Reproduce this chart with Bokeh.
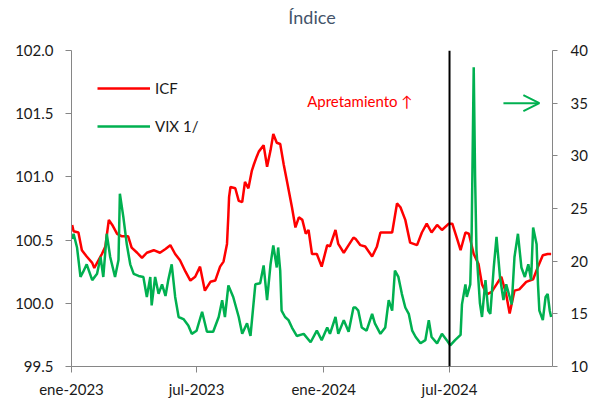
import pandas as pd
from bokeh.plotting import figure
from bokeh.models import (Range1d, LinearAxis, FixedTicker, Span, Label, Arrow,
                          OpenHead, Legend, LegendItem, PrintfTickFormatter, Title)
from bokeh.embed import file_html
from bokeh.resources import INLINE

# ---------------- data ----------------
icf_dates = [
    "2023-01-02", "2023-01-04", "2023-01-11", "2023-01-16", "2023-01-23", "2023-01-31",
    "2023-02-03", "2023-02-09", "2023-02-14", "2023-02-19", "2023-02-24",
    "2023-03-01", "2023-03-08", "2023-03-15", "2023-03-24", "2023-03-29",
    "2023-04-06", "2023-04-13", "2023-04-20", "2023-04-30",
    "2023-05-09", "2023-05-17", "2023-05-24", "2023-05-31",
    "2023-06-07", "2023-06-15", "2023-06-22", "2023-06-29",
    "2023-07-06", "2023-07-13", "2023-07-21", "2023-07-28",
    "2023-08-04", "2023-08-09", "2023-08-14", "2023-08-16", "2023-08-17", "2023-08-19", "2023-08-26", "2023-08-31",
    "2023-09-05", "2023-09-09", "2023-09-14", "2023-09-19", "2023-09-22", "2023-09-26", "2023-09-29",
    "2023-10-06", "2023-10-11", "2023-10-16", "2023-10-20", "2023-10-25", "2023-10-30",
    "2023-11-04", "2023-11-09", "2023-11-16", "2023-11-21", "2023-11-26",
    "2023-12-01", "2023-12-06", "2023-12-10", "2023-12-15", "2023-12-22", "2023-12-29",
    "2024-01-06", "2024-01-10", "2024-01-18", "2024-01-22", "2024-01-30",
    "2024-02-06", "2024-02-13", "2024-02-16", "2024-02-23",
    "2024-03-01", "2024-03-11", "2024-03-18", "2024-03-23",
    "2024-04-01", "2024-04-09", "2024-04-16", "2024-04-21", "2024-04-28",
    "2024-05-05", "2024-05-15", "2024-05-22", "2024-05-29",
    "2024-06-05", "2024-06-13", "2024-06-20", "2024-06-30",
    "2024-07-05", "2024-07-12", "2024-07-17", "2024-07-24", "2024-07-29",
    "2024-08-05", "2024-08-12", "2024-08-17", "2024-08-24", "2024-08-31",
    "2024-09-07", "2024-09-14", "2024-09-21", "2024-09-26",
    "2024-10-03", "2024-10-10", "2024-10-20", "2024-10-30",
    "2024-11-06", "2024-11-13", "2024-11-20", "2024-11-25",
]
icf_values = [
    100.62, 100.57, 100.56, 100.42, 100.37, 100.32,
    100.28, 100.34, 100.39, 100.45, 100.66,
    100.62, 100.55, 100.53, 100.53, 100.44,
    100.40, 100.36, 100.40, 100.42,
    100.40, 100.43, 100.46, 100.39,
    100.34, 100.25, 100.18, 100.21,
    100.29, 100.10, 100.17, 100.18,
    100.29, 100.33, 100.47, 100.70, 100.84, 100.92, 100.91, 100.81,
    100.80, 100.96, 100.91, 101.05, 101.10, 101.16, 101.20,
    101.25, 101.08, 101.21, 101.34, 101.27, 101.26,
    101.10, 100.96, 100.76, 100.60, 100.68,
    100.66, 100.55, 100.58, 100.39, 100.39, 100.29,
    100.46, 100.45, 100.58, 100.47, 100.40,
    100.46, 100.52, 100.51, 100.46,
    100.45, 100.37, 100.45, 100.56,
    100.56, 100.56, 100.79, 100.76, 100.66,
    100.48, 100.46, 100.56, 100.63,
    100.56, 100.62, 100.58, 100.63,
    100.63, 100.51, 100.42, 100.56, 100.55,
    100.39, 100.31, 100.15, 100.07, 100.09,
    100.15, 100.21, 100.07, 99.92,
    100.10, 100.11, 100.17, 100.19,
    100.29, 100.38, 100.39, 100.39,
]

vix_dates = [
    "2023-01-02", "2023-01-04", "2023-01-09", "2023-01-14", "2023-01-18", "2023-01-23", "2023-01-31",
    "2023-02-07", "2023-02-12", "2023-02-16", "2023-02-21", "2023-02-26",
    "2023-03-05", "2023-03-10", "2023-03-12", "2023-03-17", "2023-03-22", "2023-03-27",
    "2023-04-01", "2023-04-08", "2023-04-15", "2023-04-20", "2023-04-25", "2023-04-27",
    "2023-05-02", "2023-05-07", "2023-05-12", "2023-05-17", "2023-05-21", "2023-05-26", "2023-05-31",
    "2023-06-05", "2023-06-12", "2023-06-19", "2023-06-24",
    "2023-07-01", "2023-07-09", "2023-07-16", "2023-07-25",
    "2023-08-02", "2023-08-07", "2023-08-11", "2023-08-16", "2023-08-23", "2023-08-31",
    "2023-09-05", "2023-09-12", "2023-09-17", "2023-09-24",
    "2023-10-01", "2023-10-06", "2023-10-11", "2023-10-16", "2023-10-20", "2023-10-25", "2023-10-27", "2023-10-30",
    "2023-11-01", "2023-11-06", "2023-11-11", "2023-11-16", "2023-11-23",
    "2023-12-03", "2023-12-13", "2023-12-22", "2023-12-29",
    "2024-01-06", "2024-01-10", "2024-01-18", "2024-01-22", "2024-01-30",
    "2024-02-06", "2024-02-13", "2024-02-16", "2024-02-20", "2024-02-25",
    "2024-03-03", "2024-03-11", "2024-03-15", "2024-03-23", "2024-03-30",
    "2024-04-04", "2024-04-09", "2024-04-13", "2024-04-18", "2024-04-23", "2024-04-28",
    "2024-05-03", "2024-05-08", "2024-05-13", "2024-05-20", "2024-05-27",
    "2024-06-01", "2024-06-05", "2024-06-13", "2024-06-20", "2024-06-27",
    "2024-07-02", "2024-07-09", "2024-07-17", "2024-07-19", "2024-07-24", "2024-07-26", "2024-07-31",
    "2024-08-02", "2024-08-05", "2024-08-07", "2024-08-09", "2024-08-14", "2024-08-17", "2024-08-22", "2024-08-26", "2024-08-29",
    "2024-09-03", "2024-09-07", "2024-09-12", "2024-09-17", "2024-09-21", "2024-09-29",
    "2024-10-03", "2024-10-08", "2024-10-13", "2024-10-18", "2024-10-23", "2024-10-27", "2024-10-30",
    "2024-11-04", "2024-11-06", "2024-11-08", "2024-11-13", "2024-11-17", "2024-11-20", "2024-11-23", "2024-11-25",
]
vix_values = [
    22.1, 22.6, 21.3, 18.5, 19.0, 19.7, 18.2,
    18.8, 20.4, 18.5, 22.6, 20.4,
    18.5, 20.1, 26.4, 24.2, 21.6, 19.7,
    18.8, 18.6, 18.5, 16.6, 18.5, 15.8,
    18.5, 16.9, 17.8, 16.7, 18.2, 19.7, 16.6,
    14.7, 14.5, 13.9, 13.1,
    13.4, 15.2, 13.3, 13.3,
    14.7, 16.3, 14.7, 17.7, 16.6, 14.7,
    13.1, 14.1, 12.9, 17.8,
    17.9, 19.6, 16.3, 19.7, 21.5, 19.4, 21.3, 19.1,
    15.3, 14.7, 14.4, 13.7, 12.9,
    13.1, 12.3, 13.4, 12.5,
    13.7, 13.1, 14.7, 13.1, 14.4,
    13.3, 15.6, 15.6, 15.3, 13.7,
    13.4, 15.0, 14.1, 13.1, 13.7,
    16.3, 15.3, 19.1, 18.5, 16.9, 15.6,
    15.0, 13.4, 12.8, 12.2, 12.5,
    14.4, 12.8, 12.2, 13.1, 12.5,
    12.0, 12.5, 13.0, 15.9, 17.8, 16.6, 17.8,
    22.6, 38.4, 28.0, 21.0, 16.0, 14.7, 18.2, 15.3, 15.0,
    19.4, 22.3, 18.5, 16.3, 17.8, 15.9,
    20.4, 22.6, 19.4, 18.5, 19.7, 18.2, 23.2,
    21.6, 17.8, 15.3, 14.4, 16.6, 16.9, 15.3, 14.7,
]

x_tick_dates = ["2023-01-01", "2023-07-01", "2024-01-01", "2024-07-01"]
x_tick_labels = ["ene-2023", "jul-2023", "ene-2024", "jul-2024"]
left_ticks = [99.5, 100.0, 100.5, 101.0, 101.5, 102.0]
right_ticks = [10, 15, 20, 25, 30, 35, 40]

x_start, x_end = "2023-01-01", "2024-11-27"
marker_date = "2024-07-01"
title_text = "Índice"

# ---------------- helpers ----------------
def ms(d):
    return pd.Timestamp(d).value / 1e6

FONT = "Lato"
AXIS_GRAY = "#868686"
RED = "#FF0000"
GREEN = "#00B050"

p = figure(width=592, height=400, x_axis_type="datetime", title=None,
           x_range=Range1d(ms(x_start), ms(x_end)),
           y_range=Range1d(99.5, 102.0),
           output_backend="svg", toolbar_location=None,
           min_border_left=71, min_border_right=40, min_border_top=50, min_border_bottom=34)
p.extra_y_ranges = {"vix": Range1d(10, 40)}

# spacer between plot area and title, then the title itself further out
p.add_layout(Title(text=" ", text_font_size="2px", standoff=19), "above")
p.add_layout(Title(text=title_text, align="center", text_font=FONT, text_font_size="18px",
                   text_font_style="normal", text_color="#44546A", standoff=0), "above")

p.outline_line_color = None
p.grid.visible = False
p.background_fill_color = "white"
p.border_fill_color = "white"

# lines
icf_x = pd.to_datetime(icf_dates)
vix_x = pd.to_datetime(vix_dates)
r_icf = p.line(icf_x, icf_values, line_color=RED, line_width=2.5)
r_vix = p.line(vix_x, vix_values, line_color=GREEN, line_width=2.5, y_range_name="vix")

# vertical marker
p.add_layout(Span(location=ms(marker_date), dimension="height", line_color="black", line_width=2))

# axes styling
def style_axis(ax):
    ax.axis_line_color = AXIS_GRAY
    ax.major_tick_line_color = AXIS_GRAY
    ax.minor_tick_line_color = None
    ax.major_tick_in = 0
    ax.major_tick_out = 6
    ax.major_label_text_font = FONT
    ax.major_label_text_font_size = "15px"
    ax.major_label_text_color = "#1a1a1a"

xa = p.xaxis[0]
xa.ticker = FixedTicker(ticks=[ms(d) for d in x_tick_dates])
xa.major_label_overrides = {ms(d): lab for d, lab in zip(x_tick_dates, x_tick_labels)}
style_axis(xa)
xa.major_label_standoff = 7

ya = p.yaxis[0]
ya.ticker = FixedTicker(ticks=left_ticks)
ya.formatter = PrintfTickFormatter(format="%.1f")
style_axis(ya)
ya.major_label_standoff = 12

ra = LinearAxis(y_range_name="vix", ticker=FixedTicker(ticks=right_ticks))
style_axis(ra)
ra.major_tick_out = 5
ra.major_label_standoff = 13
p.add_layout(ra, "right")

# legend
legend = Legend(items=[LegendItem(label="ICF", renderers=[r_icf]),
                       LegendItem(label="VIX 1/", renderers=[r_vix])],
                location=(26, 230), orientation="vertical",
                glyph_width=53, glyph_height=20, label_height=20, spacing=18,
                padding=0, margin=0, label_standoff=5,
                label_text_font=FONT, label_text_font_size="15px", label_text_color="#1a1a1a",
                border_line_color=None, background_fill_alpha=0)
p.add_layout(legend)

# annotations
p.add_layout(Label(x=ms("2023-12-08"), y=101.60, text="Apretamiento  ↑",
                   text_font=FONT, text_font_size="15px", text_color=RED,
                   text_baseline="middle", text_align="left"))
p.add_layout(Arrow(end=OpenHead(size=16, line_color=GREEN, line_width=2),
                   x_start=ms("2024-09-17"), y_start=35, x_end=ms("2024-11-08"), y_end=35,
                   y_range_name="vix", line_color=GREEN, line_width=2))

open("out.html", "w").write(file_html(p, INLINE))
